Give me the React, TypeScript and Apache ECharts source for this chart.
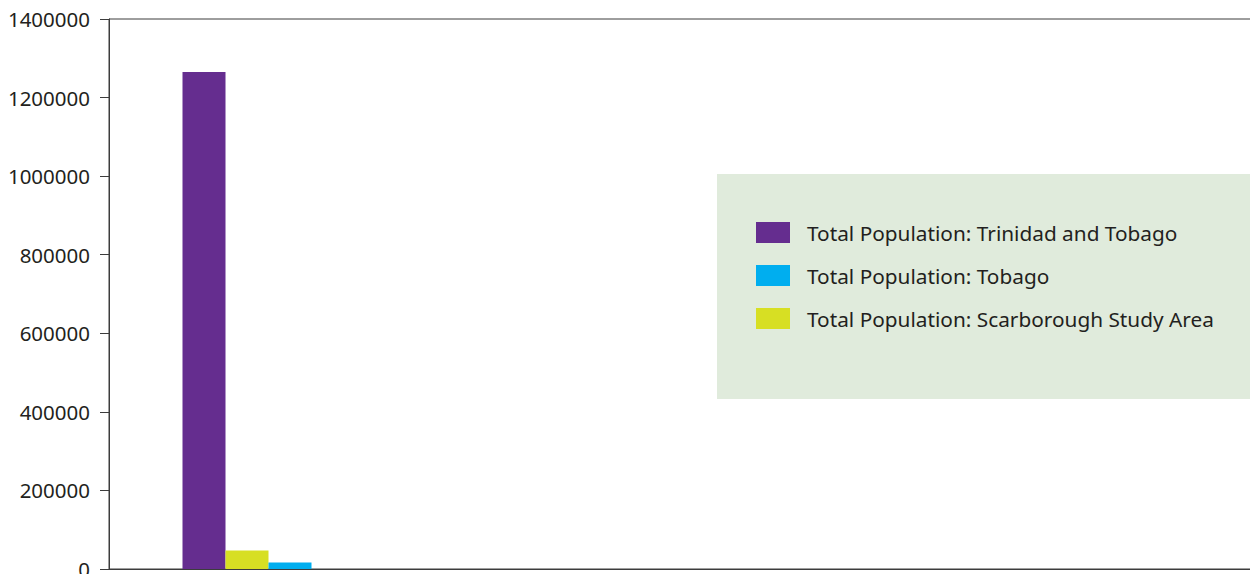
import React, { useEffect, useRef } from "react";
import * as echarts from "echarts";

const categories = ["", "", "", "", ""];
const trinidadAndTobago = [1265000, null, null, null, null];
const scarboroughStudyArea = [47000, null, null, null, null];
const tobago = [16500, null, null, null, null];
const legendOrder = [
  "Total Population: Trinidad and Tobago",
  "Total Population: Tobago",
  "Total Population: Scarborough Study Area",
];

const FONT = "Noto Sans";
const TEXT = "#231f20";
const AXIS = "#3c3c3c";

export default function App() {
  const ref = useRef<HTMLDivElement>(null);
  useEffect(() => {
    if (!ref.current) return;
    const chart = echarts.init(ref.current, null, { renderer: "svg" });
    chart.setOption({
      animation: false,
      backgroundColor: "#ffffff",
      textStyle: { fontFamily: FONT },
      grid: {
        left: 109,
        top: 19,
        bottom: 5,
        right: 11,
        outerBoundsMode: "none",
        containLabel: false,
        show: true,
        borderColor: AXIS,
        borderWidth: 1,
        backgroundColor: "transparent",
      },
      graphic: [
        {
          type: "rect",
          z: -10,
          silent: true,
          shape: { x: 717, y: 174, width: 560, height: 225 },
          style: { fill: "#e0ebdc" },
        },
      ],
      legend: {
        orient: "vertical",
        left: 756,
        top: 222,
        padding: 0,
        itemWidth: 34,
        itemHeight: 21,
        itemGap: 22,
        icon: "rect",
        data: legendOrder,
        textStyle: { fontFamily: FONT, fontSize: 20.8, color: TEXT, padding: [0, 0, 0, 12] },
      },
      xAxis: {
        type: "category",
        data: categories,
        axisLine: { show: true, lineStyle: { color: AXIS, width: 1 } },
        axisTick: { show: false },
        axisLabel: { show: false },
      },
      yAxis: {
        type: "value",
        min: 0,
        max: 1400000,
        interval: 200000,
        splitLine: { show: false },
        axisLine: { show: true, lineStyle: { color: AXIS, width: 1 } },
        axisTick: { show: true, length: 9, lineStyle: { color: AXIS } },
        axisLabel: {
          fontFamily: FONT,
          fontSize: 20.5,
          color: TEXT,
          margin: 19,
          formatter: (v: number) => String(v),
        },
      },
      series: [
        {
          name: legendOrder[0],
          type: "bar",
          data: trinidadAndTobago,
          barWidth: 43,
          barGap: "0%",
          itemStyle: { color: "#652d8f" },
        },
        {
          name: legendOrder[2],
          type: "bar",
          data: scarboroughStudyArea,
          barWidth: 43,
          barGap: "0%",
          itemStyle: { color: "#d7df23" },
        },
        {
          name: legendOrder[1],
          type: "bar",
          data: tobago,
          barWidth: 43,
          barGap: "0%",
          itemStyle: { color: "#00aeef" },
        },
      ],
    });
    return () => chart.dispose();
  }, []);
  return (
    <div
      style={{
        position: "fixed",
        left: 0,
        top: 0,
        width: 1250,
        height: 574,
        overflow: "hidden",
      }}
    >
      <div ref={ref} style={{ width: 1500, height: 574 }} />
    </div>
  );
}
